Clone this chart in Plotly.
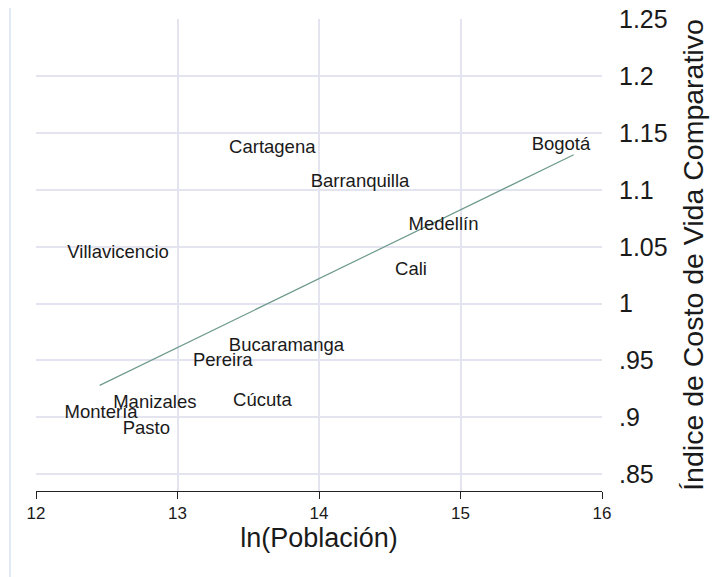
import plotly.graph_objects as go

cities = ["Bogotá", "Cartagena", "Barranquilla", "Medellín", "Villavicencio", "Cali",
          "Bucaramanga", "Pereira", "Cúcuta", "Manizales", "Montería", "Pasto"]
ln_pob = [15.71, 13.67, 14.29, 14.88, 12.58, 14.65, 13.77, 13.32, 13.60, 12.84, 12.46, 12.78]
icv = [1.139, 1.137, 1.107, 1.069, 1.044, 1.029, 0.962, 0.949, 0.914, 0.912, 0.903, 0.889]

fit_x = [12.45, 15.80]
fit_y = [0.928, 1.131]

y_ticks = [0.85, 0.9, 0.95, 1.0, 1.05, 1.1, 1.15, 1.2, 1.25]
y_tick_labels = [".85", ".9", ".95", "1", "1.05", "1.1", "1.15", "1.2", "1.25"]
x_ticks = [12, 13, 14, 15, 16]

FONT = "Liberation Sans, Arial, sans-serif"

fig = go.Figure()
fig.add_trace(go.Scatter(x=fit_x, y=fit_y, mode="lines",
                         line=dict(color="#6e9a8c", width=1.2), hoverinfo="skip"))
fig.add_trace(go.Scatter(x=ln_pob, y=icv, mode="text", text=cities,
                         textposition="middle center",
                         textfont=dict(family=FONT, size=18.5, color="#1a1a1a")))

fig.update_layout(
    width=711, height=569,
    margin=dict(l=28, r=117, t=11, b=86),
    paper_bgcolor="white", plot_bgcolor="white",
    showlegend=False,
    font=dict(family=FONT, color="#1a1a1a"),
    xaxis=dict(range=[12, 16], tickvals=x_ticks, showgrid=True, gridcolor="#e3e4ef",
               gridwidth=1.5, zeroline=False, showline=True, linecolor="#222",
               linewidth=1, ticks="outside", ticklen=7, tickcolor="#222", automargin=False,
               tickfont=dict(size=17), title=dict(text="ln(Población)", font=dict(size=27),
                                                  standoff=2)),
    yaxis=dict(range=[0.835, 1.2505], side="right", tickvals=y_ticks, ticktext=y_tick_labels,
               showgrid=True, gridcolor="#e3e4ef", gridwidth=1.5, zeroline=False,
               showline=False, ticks="outside", ticklen=11, tickcolor="rgba(0,0,0,0)",
               tickfont=dict(size=25), automargin=False, ticklabeloverflow="allow",
               title=dict(text="Índice de Costo de Vida Comparativo", font=dict(size=28.5),
                          standoff=16)),
)
fig.add_shape(type="line", xref="paper", yref="paper", x0=-0.046, x1=-0.046,
              y0=-0.182, y1=1.04, line=dict(color="#d6e3f0", width=1.5))

fig.write_html("out.html")
